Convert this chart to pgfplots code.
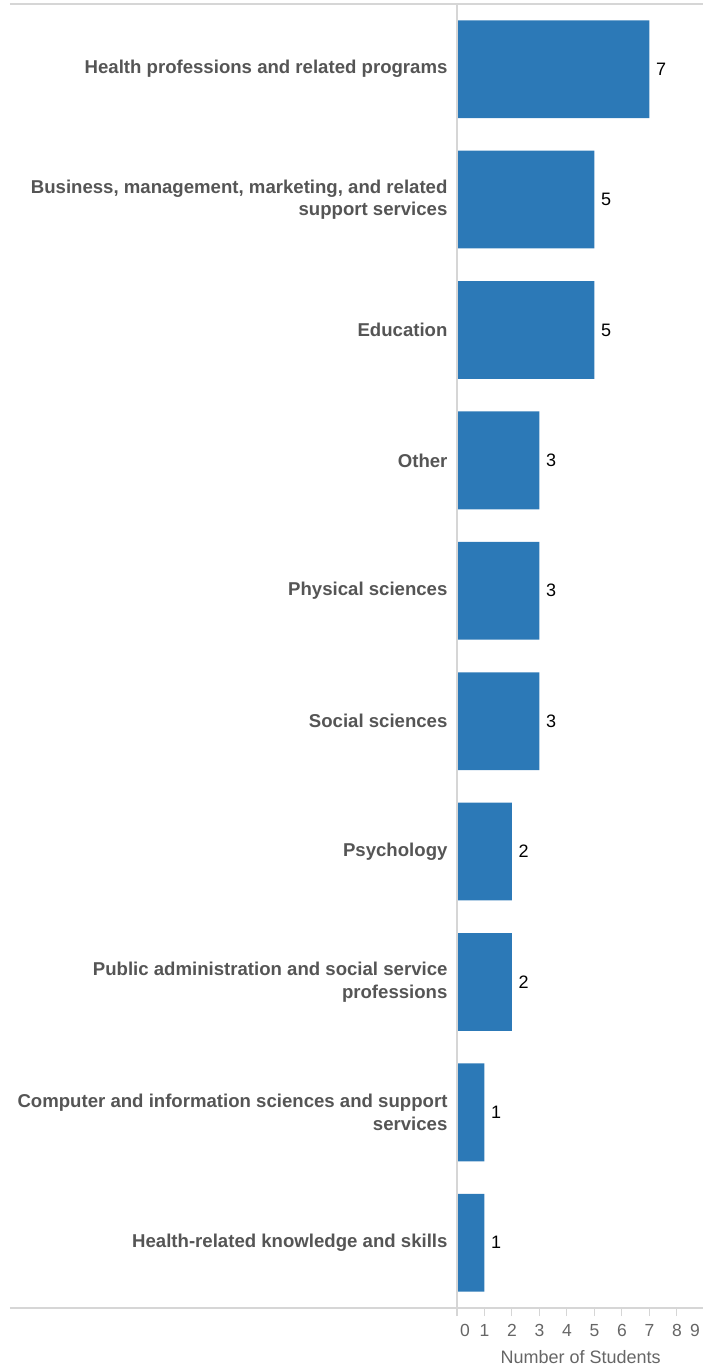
\documentclass[border=0pt]{standalone}
\usepackage{pgfplots}
\pgfplotsset{compat=1.18}
\usepackage{fontspec}
\setmainfont{Liberation Sans}
\definecolor{barblue}{RGB}{44,121,183}
\definecolor{lblgray}{RGB}{85,85,85}
\definecolor{tickgray}{RGB}{102,102,102}
\definecolor{linegray}{RGB}{214,214,214}
\begin{document}
\begin{tikzpicture}
\begin{axis}[
  scale only axis,
  width=247.5pt, height=1304pt,
  xmin=0, xmax=9, ymin=-0.5, ymax=9.5,
  xbar, bar width=0.75,
  axis line style={draw=none},
  xtick={0,...,9},
  xticklabels={{\rule{16pt}{0pt}0},1,2,3,4,5,6,7,8,{9\rule{19pt}{0pt}}},
  xtick pos=bottom,
  tick align=outside,
  x tick style={draw=linegray, line width=1pt},
  major tick length=8pt,
  ytick={0,...,9},
  ytick style={draw=none},
  yticklabels={
    Health-related knowledge and skills,
    Computer and information sciences and support\\services,
    Public administration and social service\\professions,
    Psychology,
    Social sciences,
    Physical sciences,
    Other,
    Education,
    {Business, management, marketing, and related\\support services},
    Health professions and related programs},
  yticklabel style={align=right, font=\fontsize{18.6}{22.5}\selectfont\bfseries, text=lblgray, xshift=2pt},
  xticklabel style={font=\fontsize{17.5}{20}\selectfont, text=tickgray, yshift=-5pt},
  /pgf/number format/assume math mode=true,
  xlabel={Number of Students},
  xlabel style={font=\fontsize{18}{20}\selectfont, text=tickgray, yshift=-7pt},
  nodes near coords,
  nodes near coords style={font=\fontsize{18}{20}\selectfont, text=black, anchor=west, xshift=3pt},
  point meta=x,
  clip=false,
]
\addplot[fill=barblue, draw=none] coordinates {
  (1,0) (1,1) (2,2) (2,3) (3,4) (3,5) (3,6) (5,7) (5,8) (7,9)};
\coordinate (BL) at (rel axis cs:0,0);
\coordinate (TL) at (rel axis cs:0,1);
\end{axis}
\draw[linegray, line width=1.5pt] ([xshift=-447pt]TL) -- ([xshift=246pt]TL);
\draw[linegray, line width=1.5pt] ([xshift=-447pt]BL) -- ([xshift=246pt]BL);
\draw[linegray, line width=1.5pt] (TL) -- ([yshift=-8pt]BL);
\pgfresetboundingbox
\path ([shift={(-457pt,-59pt)}]BL) rectangle ([shift={(246pt,4pt)}]TL);
\end{tikzpicture}
\end{document}
